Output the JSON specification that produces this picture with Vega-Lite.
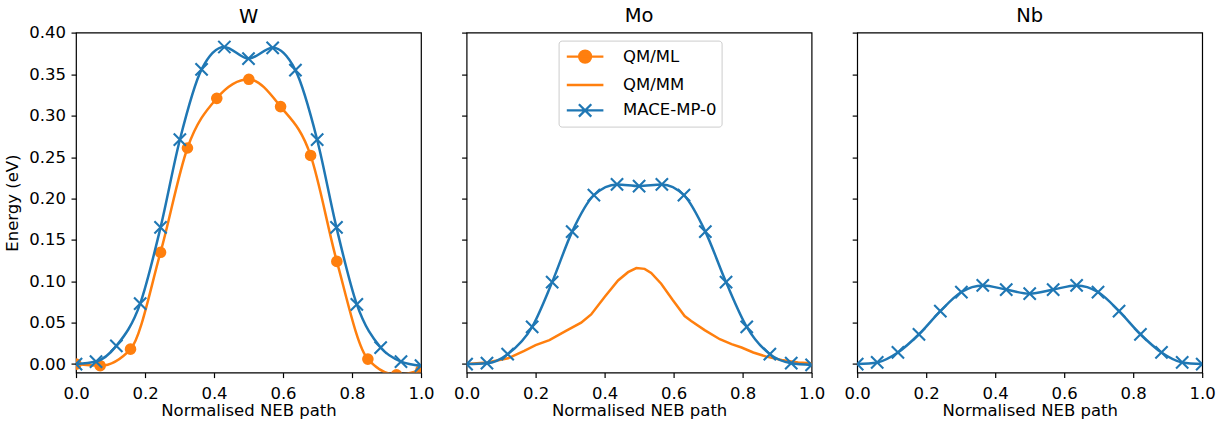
{
  "$schema": "https://vega.github.io/schema/vega-lite/v6.json",
  "padding": {"left": 4, "top": 4.6, "right": 5, "bottom": 5},
  "background": "white",
  "bounds": "flush",
  "spacing": 45.6,
  "config": {
    "font": "DejaVu Sans",
    "view": {"stroke": "black", "strokeWidth": 1.2},
    "axis": {
      "domain": false, "grid": false, "ticks": true, "tickColor": "black", "tickSize": 5, "tickWidth": 1.2,
      "labelFont": "DejaVu Sans", "labelFontSize": 16.5, "labelColor": "black", "labelPadding": 5.5,
      "titleFont": "DejaVu Sans", "titleFontSize": 16.5, "titleFontWeight": "normal", "titleColor": "black"
    },
    "axisX": {"labelPadding": 8, "titlePadding": 0.5},
    "title": {"font": "DejaVu Sans", "fontSize": 19.5, "fontWeight": "normal", "color": "black", "baseline": "alphabetic", "offset": 5.5},
    "legend": {
      "orient": "none", "legendX": 92, "legendY": 8, "padding": 4.5,
      "fillColor": "white", "strokeColor": "#cccccc", "cornerRadius": 3,
      "symbolSize": 400, "symbolStrokeWidth": 2.3, "symbolOpacity": 1,
      "labelFont": "DejaVu Sans", "labelFontSize": 16.5, "labelColor": "black",
      "labelOffset": 26.5, "rowPadding": 5.4, "symbolOffset": 10.5
    }
  },
  "datasets": {
    "W_ml": [
      {"x": 0, "y": 0}, {"x": 0.07, "y": -0.002}, {"x": 0.158, "y": 0.018}, {"x": 0.245, "y": 0.135},
      {"x": 0.323, "y": 0.261}, {"x": 0.408, "y": 0.321}, {"x": 0.501, "y": 0.344}, {"x": 0.593, "y": 0.311},
      {"x": 0.68, "y": 0.252}, {"x": 0.756, "y": 0.124}, {"x": 0.846, "y": 0.006}, {"x": 0.929, "y": -0.013},
      {"x": 1.0, "y": -0.007}
    ],
    "W_mace": [
      {"x": 0, "y": 0}, {"x": 0.058, "y": 0.003}, {"x": 0.117, "y": 0.022}, {"x": 0.186, "y": 0.073},
      {"x": 0.245, "y": 0.165}, {"x": 0.301, "y": 0.271}, {"x": 0.364, "y": 0.356}, {"x": 0.43, "y": 0.383},
      {"x": 0.5, "y": 0.369}, {"x": 0.57, "y": 0.382}, {"x": 0.636, "y": 0.355}, {"x": 0.699, "y": 0.271},
      {"x": 0.755, "y": 0.165}, {"x": 0.814, "y": 0.072}, {"x": 0.883, "y": 0.02}, {"x": 0.942, "y": 0.003},
      {"x": 1.0, "y": -0.002}
    ],
    "Mo_mm": [
      {"x": 0, "y": 0}, {"x": 0.06, "y": 0.002}, {"x": 0.12, "y": 0.007}, {"x": 0.167, "y": 0.016},
      {"x": 0.2, "y": 0.023}, {"x": 0.24, "y": 0.029}, {"x": 0.288, "y": 0.04}, {"x": 0.332, "y": 0.05},
      {"x": 0.361, "y": 0.06}, {"x": 0.4, "y": 0.081}, {"x": 0.439, "y": 0.101}, {"x": 0.468, "y": 0.111},
      {"x": 0.492, "y": 0.116}, {"x": 0.516, "y": 0.115}, {"x": 0.535, "y": 0.11}, {"x": 0.564, "y": 0.097},
      {"x": 0.598, "y": 0.077}, {"x": 0.632, "y": 0.058}, {"x": 0.651, "y": 0.052}, {"x": 0.69, "y": 0.041},
      {"x": 0.734, "y": 0.03}, {"x": 0.768, "y": 0.024}, {"x": 0.797, "y": 0.02}, {"x": 0.831, "y": 0.014},
      {"x": 0.869, "y": 0.009}, {"x": 0.913, "y": 0.005}, {"x": 0.961, "y": 0.002}, {"x": 1.0, "y": 0.001}
    ],
    "Mo_mace": [
      {"x": 0, "y": 0}, {"x": 0.059, "y": 0.001}, {"x": 0.119, "y": 0.012}, {"x": 0.19, "y": 0.045},
      {"x": 0.248, "y": 0.099}, {"x": 0.306, "y": 0.16}, {"x": 0.369, "y": 0.204}, {"x": 0.436, "y": 0.217},
      {"x": 0.5, "y": 0.215}, {"x": 0.566, "y": 0.217}, {"x": 0.63, "y": 0.204}, {"x": 0.692, "y": 0.16},
      {"x": 0.752, "y": 0.099}, {"x": 0.812, "y": 0.045}, {"x": 0.879, "y": 0.012}, {"x": 0.941, "y": 0.001},
      {"x": 1.0, "y": -0.001}
    ],
    "Nb_mace": [
      {"x": 0, "y": 0}, {"x": 0.058, "y": 0.002}, {"x": 0.118, "y": 0.014}, {"x": 0.179, "y": 0.036},
      {"x": 0.241, "y": 0.064}, {"x": 0.302, "y": 0.087}, {"x": 0.364, "y": 0.095}, {"x": 0.432, "y": 0.09},
      {"x": 0.5, "y": 0.085}, {"x": 0.568, "y": 0.09}, {"x": 0.636, "y": 0.095}, {"x": 0.698, "y": 0.087},
      {"x": 0.759, "y": 0.064}, {"x": 0.821, "y": 0.036}, {"x": 0.882, "y": 0.014}, {"x": 0.942, "y": 0.002},
      {"x": 1.0, "y": 0.0}
    ],
    "legend": [
      {"series": "QM/ML"}, {"series": "QM/MM"}, {"series": "MACE-MP-0"}
    ]
  },
  "hconcat": [
    {
      "width": 345, "height": 340,
      "title": {"text": "W", "offset": -2.2},
      "encoding": {
        "x": {"field": "x", "type": "quantitative", "scale": {"domain": [0, 1], "nice": false, "zero": false},
              "axis": {"values": [0, 0.2, 0.4, 0.6, 0.8, 1.0], "format": ".1f", "labelFlush": false, "title": "Normalised NEB path"}},
        "y": {"field": "y", "type": "quantitative", "scale": {"domain": [-0.0103, 0.4004], "nice": false, "zero": false},
              "axis": {"values": [0, 0.05, 0.1, 0.15, 0.2, 0.25, 0.3, 0.35, 0.4], "format": ".2f", "labelFlush": false, "title": "Energy (eV)", "titlePadding": 8}}
      },
      "layer": [
        {"data": {"name": "W_ml"}, "mark": {"type": "line", "color": "#ff7f0e", "strokeWidth": 2.5, "interpolate": "monotone", "clip": true}},
        {"data": {"name": "W_ml"}, "mark": {"type": "point", "shape": "circle", "filled": true, "color": "#ff7f0e", "opacity": 1, "size": 135, "clip": true}},
        {"data": {"name": "W_mace"}, "mark": {"type": "line", "color": "#1f77b4", "strokeWidth": 2.5, "interpolate": "monotone", "clip": true}},
        {"data": {"name": "W_mace"}, "mark": {"type": "point", "shape": "M-1,-1L1,1M-1,1L1,-1", "filled": false, "color": "#1f77b4", "opacity": 1, "size": 150, "strokeWidth": 2.1, "clip": true}}
      ]
    },
    {
      "width": 345, "height": 340,
      "title": "Mo",
      "encoding": {
        "x": {"field": "x", "type": "quantitative", "scale": {"domain": [0, 1], "nice": false, "zero": false},
              "axis": {"values": [0, 0.2, 0.4, 0.6, 0.8, 1.0], "format": ".1f", "labelFlush": false, "title": "Normalised NEB path"}},
        "y": {"field": "y", "type": "quantitative", "scale": {"domain": [-0.0103, 0.4004], "nice": false, "zero": false},
              "axis": {"values": [0, 0.05, 0.1, 0.15, 0.2, 0.25, 0.3, 0.35, 0.4], "labels": false, "title": null}}
      },
      "layer": [
        {"data": {"name": "Mo_mm"}, "mark": {"type": "line", "color": "#ff7f0e", "strokeWidth": 2.5, "clip": true}},
        {"data": {"name": "Mo_mace"}, "mark": {"type": "line", "color": "#1f77b4", "strokeWidth": 2.5, "interpolate": "monotone", "clip": true}},
        {"data": {"name": "Mo_mace"}, "mark": {"type": "point", "shape": "M-1,-1L1,1M-1,1L1,-1", "filled": false, "color": "#1f77b4", "opacity": 1, "size": 150, "strokeWidth": 2.1, "clip": true}},
        {"data": {"name": "legend"}, "mark": {"type": "point", "filled": true, "opacity": 0},
         "encoding": {
           "x": null, "y": null,
           "fill": {"field": "series", "type": "nominal", "sort": null,
                    "scale": {"domain": ["QM/ML", "QM/MM", "MACE-MP-0"], "range": ["#ff7f0e", "#ff7f0e", "#1f77b4"]},
                    "legend": {"title": null}},
           "stroke": {"field": "series", "type": "nominal", "sort": null,
                      "scale": {"domain": ["QM/ML", "QM/MM", "MACE-MP-0"], "range": ["#ff7f0e", "#ff7f0e", "#1f77b4"]},
                      "legend": {"title": null}},
           "shape": {"field": "series", "type": "nominal", "sort": null,
                     "scale": {"domain": ["QM/ML", "QM/MM", "MACE-MP-0"],
                               "range": ["M-1.83,0H1.83M-0.6,0A0.6,0.6 0 1,0 0.6,0A0.6,0.6 0 1,0 -0.6,0Z",
                                         "M-1.83,0H1.83",
                                         "M-1.83,0H1.83M-0.62,-0.62L0.62,0.62M-0.62,0.62L0.62,-0.62"]},
                     "legend": {"title": null}}
         }}
      ]
    },
    {
      "width": 345, "height": 340,
      "title": "Nb",
      "encoding": {
        "x": {"field": "x", "type": "quantitative", "scale": {"domain": [0, 1], "nice": false, "zero": false},
              "axis": {"values": [0, 0.2, 0.4, 0.6, 0.8, 1.0], "format": ".1f", "labelFlush": false, "title": "Normalised NEB path"}},
        "y": {"field": "y", "type": "quantitative", "scale": {"domain": [-0.0103, 0.4004], "nice": false, "zero": false},
              "axis": {"values": [0, 0.05, 0.1, 0.15, 0.2, 0.25, 0.3, 0.35, 0.4], "labels": false, "title": null}}
      },
      "layer": [
        {"data": {"name": "Nb_mace"}, "mark": {"type": "line", "color": "#1f77b4", "strokeWidth": 2.5, "interpolate": "monotone", "clip": true}},
        {"data": {"name": "Nb_mace"}, "mark": {"type": "point", "shape": "M-1,-1L1,1M-1,1L1,-1", "filled": false, "color": "#1f77b4", "opacity": 1, "size": 150, "strokeWidth": 2.1, "clip": true}}
      ]
    }
  ],
  "resolve": {
    "scale": {"fill": "independent", "stroke": "independent", "shape": "independent"},
    "legend": {"fill": "independent", "stroke": "independent", "shape": "independent"}
  }
}
